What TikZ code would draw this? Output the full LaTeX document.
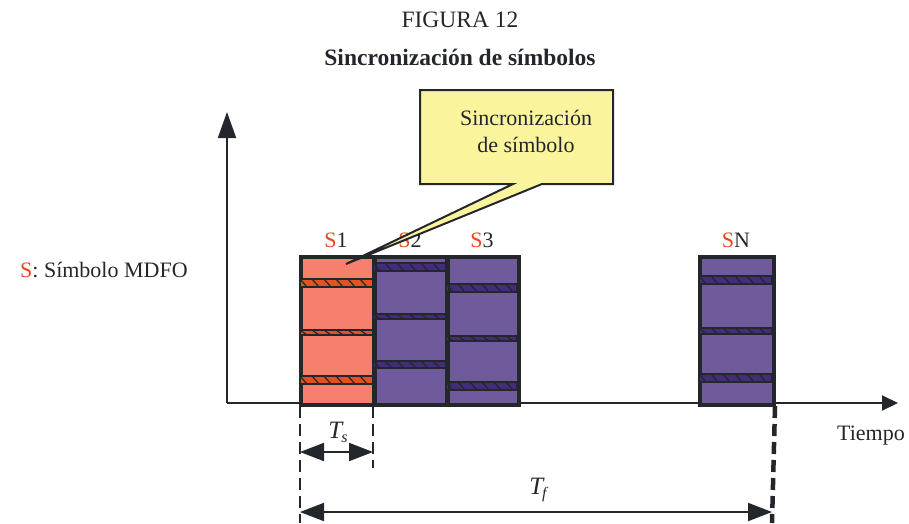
\documentclass[tikz,border=0pt]{standalone}
\usepackage{fontspec}
\setmainfont{Liberation Serif}
\usetikzlibrary{arrows.meta}
\definecolor{ink}{HTML}{23272B}
\definecolor{salmon}{HTML}{F67F6E}
\definecolor{orstripe}{HTML}{E8501F}
\definecolor{purp}{HTML}{6F5B9C}
\definecolor{purpstripe}{HTML}{432C7A}
\definecolor{sred}{HTML}{E8471E}
\definecolor{calloutfill}{HTML}{FAF59C}
\newcommand{\hstripe}[5]{% x1, x2, ytop, ybot, color
  \begin{scope}
    \clip (#1,#3) rectangle (#2,#4);
    \fill[#5] (#1,#3) rectangle (#2,#4);
    \foreach \k in {0,12,...,84} \draw[ink, line width=1.2pt] (#1+\k,#3) -- (#1+\k+7,#4);
  \end{scope}
  \draw[ink, line width=2pt] (#1,#3) rectangle (#2,#4);
}
\newcommand{\itsub}[2]{{\itshape #1\kern-1pt\raisebox{-0.35ex}{\fontsize{16}{16}\selectfont #2}}}
\tikzset{
  txt/.style={inner sep=0pt, text=ink, font=\fontsize{22}{26}\selectfont},
  blockbox/.style={draw=ink, line width=3pt, inner sep=0pt, anchor=north west},
  dashline/.style={draw=ink, line width=2.8pt, dash pattern=on 12pt off 6pt},
  dimarrow/.style={draw=ink, line width=2pt, {Triangle[length=24pt,width=18pt]}-{Triangle[length=24pt,width=18pt]}},
}
\begin{document}
\begin{tikzpicture}[x=1pt,y=-1pt]
\useasboundingbox (0,0) rectangle (909,523);
% titles
\node[txt, font=\fontsize{23.5}{27}\selectfont] (fig) at (460,20) {FIGURA 12};
\node[txt, font=\fontsize{23.5}{27}\bfseries\selectfont] (title) at (460,57) {Sincronización de símbolos};
% axes
\coordinate (origin) at (227,403);
\coordinate (ytip) at (227,112);
\coordinate (xtip) at (898,403);
\draw[ink, line width=2pt, -{Triangle[length=26pt,width=18pt]}] (origin) -- (ytip);
\draw[ink, line width=2pt, -{Triangle[length=16pt,width=15pt]}] (origin) -- (xtip);
% blocks
\node[blockbox, fill=salmon, minimum width=73pt, minimum height=147pt] (s1) at (300,256) {};
\node[blockbox, fill=purp, minimum width=73pt, minimum height=147pt] (s2) at (373,256) {};
\node[blockbox, fill=purp, minimum width=71pt, minimum height=147pt] (s3) at (446,256) {};
\node[blockbox, fill=purp, minimum width=73pt, minimum height=147pt] (sn) at (699,256) {};
% stripes
\hstripe{300}{373}{279}{287}{orstripe}
\hstripe{300}{373}{330}{335}{orstripe}
\hstripe{300}{373}{376}{384}{orstripe}
\hstripe{373}{446}{263}{271}{purpstripe}
\hstripe{373}{446}{314}{319}{purpstripe}
\hstripe{373}{446}{361}{368}{purpstripe}
\hstripe{446}{517}{284}{292}{purpstripe}
\hstripe{446}{517}{336}{341}{purpstripe}
\hstripe{446}{517}{382}{390}{purpstripe}
\hstripe{699}{772}{276}{284}{purpstripe}
\hstripe{699}{772}{328}{334}{purpstripe}
\hstripe{699}{772}{374}{382}{purpstripe}
\draw[ink, line width=2.5pt] (s1.north west) rectangle (s1.south east);
\draw[ink, line width=2.5pt] (s2.north west) rectangle (s2.south east);
\draw[ink, line width=2.5pt] (s3.north west) rectangle (s3.south east);
\draw[ink, line width=2.5pt] (sn.north west) rectangle (sn.south east);
% block labels
\node[txt] (l1) at (336,240) {\textcolor{sred}{S}1};
\node[txt] (l2) at (410,240) {\textcolor{sred}{S}2};
\node[txt] (l3) at (482,240) {\textcolor{sred}{S}3};
\node[txt] (ln) at (736,240) {\textcolor{sred}{S}N};
\node[txt, anchor=west] (legend) at (20,270) {\textcolor{sred}{S}: Símbolo MDFO};
\node[txt] (tiempo) at (871,436) {Tiempo};
% callout
\coordinate (tip) at (346,264);
\draw[ink, line width=2pt, fill=calloutfill, line join=miter]
  (420,90) -- (613,90) -- (613,184) -- (542,184) -- (tip) -- (513,184) -- (420,184) -- cycle;
\node[txt, align=center, font=\fontsize{22}{27}\selectfont] (ctext) at (526,131) {Sincronización\\de símbolo};
% dashed guides
\coordinate (d1) at (300,523);
\coordinate (d2) at (373,468);
\coordinate (d3) at (772,523);
\draw[dashline] (s1.south west) -- (d1);
\draw[dashline] (s2.south west) -- (d2);
\draw[dashline, line width=4.5pt] (sn.south east) -- (d3);
% dimension arrows
\coordinate (ts1) at (300,452);
\coordinate (ts2) at (373,452);
\coordinate (tf1) at (300,512);
\coordinate (tf2) at (772,512);
\draw[dimarrow] (ts1) -- (ts2);
\draw[dimarrow] (tf1) -- (tf2);
\node[txt, font=\fontsize{25}{28}\selectfont] (tslab) at (338,432) {\itsub{T}{s}};
\node[txt, font=\fontsize{25}{28}\selectfont] (tflab) at (538,490) {\itsub{T}{f}};
\end{tikzpicture}
\end{document}
